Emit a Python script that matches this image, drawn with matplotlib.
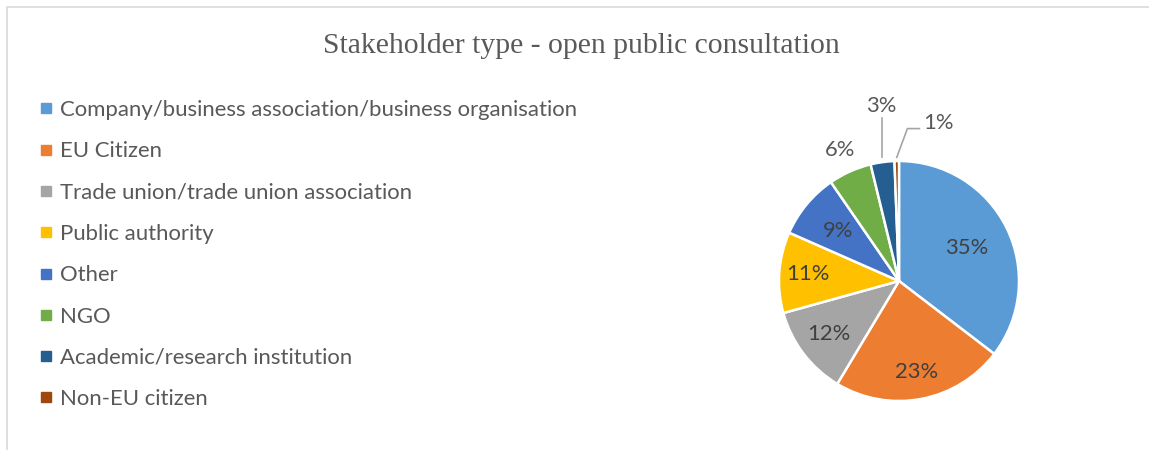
import numpy as np
import matplotlib
matplotlib.use("Agg")
import matplotlib.pyplot as plt
from matplotlib.lines import Line2D
from matplotlib.patches import Rectangle

# data
categories = ["Company/business association/business organisation", "EU Citizen",
              "Trade union/trade union association", "Public authority", "Other",
              "NGO", "Academic/research institution", "Non-EU citizen"]
shares = [35.4, 23.2, 12.1, 10.9, 8.8, 5.8, 3.2, 0.6]
colors = ["#5B9BD5", "#ED7D31", "#A5A5A5", "#FFC000", "#4472C4", "#70AD47", "#255E91", "#9E480E"]

text_col = "#595959"

fig = plt.figure(figsize=(11.49, 4.5), dpi=100)

# chart frame (only left and top edges visible)
fig.add_artist(Rectangle((7 / 1149, -0.1), 1.2, 1.1 - 7 / 450, transform=fig.transFigure,
                         fill=False, edgecolor="#D9D9D9", linewidth=1.2))

fig.text(581 / 1149, 1 - 46 / 450, "Stakeholder type - open public consultation",
         ha="center", va="center", family="Liberation Serif", fontsize=21.3, color=text_col)

ax = fig.add_axes([707 / 1149, 1 / 450, 384 / 1149, 384 / 450])
wedges, _ = ax.pie(shares, colors=colors, startangle=90, counterclock=False,
                   wedgeprops=dict(edgecolor="white", linewidth=1.8))
ax.set_xlim(-1.6, 1.6)
ax.set_ylim(-1.4, 1.8)

# label distances (fraction of radius), inside for big slices
label_r = [0.63, 0.77, 0.73, 0.76, 0.66, 1.2]
fs = 15.8
for i, w in enumerate(wedges):
    mid = np.deg2rad((w.theta1 + w.theta2) / 2)
    txt = "%.0f%%" % shares[i]
    if i < len(label_r):
        r = label_r[i]
        ax.text(r * np.cos(mid), r * np.sin(mid), txt, ha="center", va="center",
                family="Lato", fontsize=fs, color="#404040" if r < 1 else text_col)
    elif i == 6:
        x0 = np.cos(mid)
        ax.plot([x0, x0], [1.03, 1.36], color="#A5A5A5", lw=1.2)
        ax.text(x0 - 0.01, 1.46, txt, ha="center", va="center", family="Lato",
                fontsize=fs, color=text_col)
    else:
        x0 = np.cos(mid)
        ax.plot([x0, 0.07, 0.17], [1.03, 1.27, 1.27], color="#A5A5A5", lw=1.2)
        ax.text(0.2, 1.32, txt, ha="left", va="center", family="Lato",
                fontsize=fs, color=text_col)

handles = [Line2D([], [], marker="s", linestyle="none", markersize=6.5,
                  markerfacecolor=c, markeredgecolor=c) for c in colors]
leg = fig.legend(handles, categories, loc="upper left", bbox_to_anchor=(29 / 1149, 1 - 89 / 450),
                 frameon=False, prop=dict(family="Lato", size=15.9), labelcolor=text_col,
                 handlelength=0.5, handletextpad=0.4, labelspacing=0.965, borderpad=0)

fig.savefig("out.png", dpi=100, facecolor="white")
